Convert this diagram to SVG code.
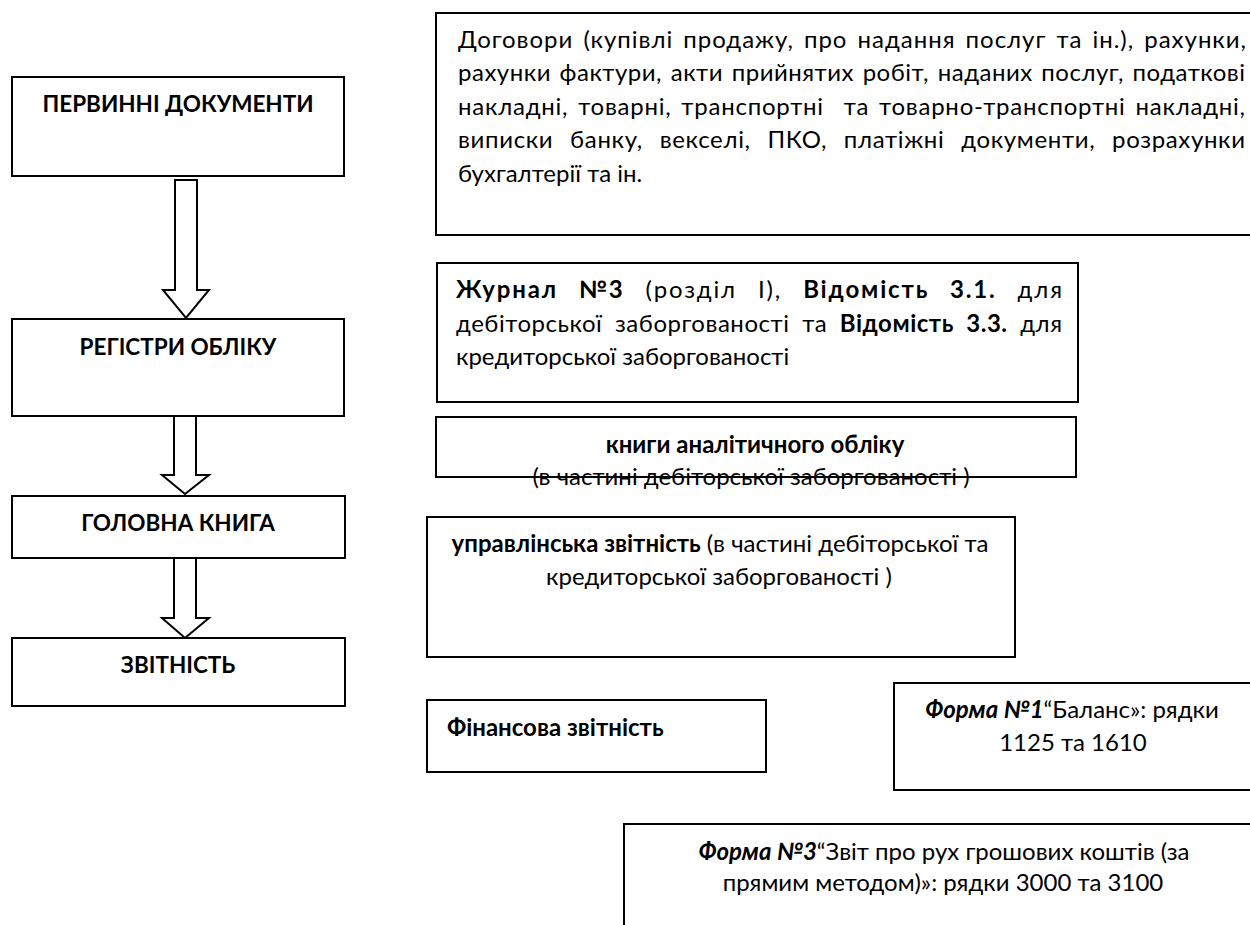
<svg xmlns="http://www.w3.org/2000/svg" width="1250" height="925" viewBox="0 0 1250 925">
<style>
.box{fill:#fff;stroke:#000;stroke-width:2}
.arr{fill:#fff;stroke:#000;stroke-width:2;stroke-linejoin:miter}
text{font-family:Lato,"Liberation Sans",sans-serif;font-size:24px;fill:#000}
.l{font-size:22.5px;font-weight:bold}
.b{font-weight:bold}
.bi{font-weight:bold;font-style:italic}
.c{text-anchor:middle}
</style>
<rect width="1250" height="925" fill="#fff"/>
<g id="connectors">
<polygon class="arr" points="175,180 197,180 197,290 209,290 186,318 163,290 175,290"/>
<polygon class="arr" points="174,416 196,416 196,475 209,475 185,494 162,475 174,475"/>
<polygon class="arr" points="174,558 196,558 196,618 209,618 185,638 162,618 174,618"/>
</g>
<g id="n-pervynni">
<rect class="box" x="12" y="77" width="332" height="99"/>
<text class="l c" x="178" y="112">ПЕРВИННІ ДОКУМЕНТИ</text>
</g>
<g id="n-registry">
<rect class="box" x="12" y="319" width="332" height="97"/>
<text class="l c" x="178" y="355">РЕГІСТРИ ОБЛІКУ</text>
</g>
<g id="n-golovna">
<rect class="box" x="12" y="496" width="333" height="62"/>
<text class="l c" x="178" y="531">ГОЛОВНА КНИГА</text>
</g>
<g id="n-zvitnist">
<rect class="box" x="12" y="638" width="333" height="68"/>
<text class="l c" x="178" y="673">ЗВІТНІСТЬ</text>
</g>
<g id="n-docs">
<rect class="box" x="436" y="13" width="820" height="222"/>
<text x="458" y="48" word-spacing="3" textLength="788" lengthAdjust="spacing">Договори (купівлі продажу, про надання послуг та ін.), рахунки,</text>
<text x="458" y="81" word-spacing="2" textLength="787" lengthAdjust="spacing">рахунки фактури, акти прийнятих робіт, наданих послуг, податкові</text>
<text x="458" y="115" word-spacing="3" textLength="787" lengthAdjust="spacing">накладні, товарні, транспортні&#160; та товарно-транспортні накладні,</text>
<text x="458" y="148" word-spacing="10" textLength="787" lengthAdjust="spacing">виписки банку, векселі, ПКО, платіжні документи, розрахунки</text>
<text x="458" y="182">бухгалтерії та ін.</text>
</g>
<g id="n-journal">
<rect class="box" x="437" y="263" width="641" height="139"/>
<text x="456" y="298" word-spacing="13" textLength="606" lengthAdjust="spacing"><tspan class="b">Журнал №3</tspan> (розділ І), <tspan class="b">Відомість 3.1.</tspan> для</text>
<text x="456" y="332" word-spacing="6" textLength="606" lengthAdjust="spacing">дебіторської заборгованості та <tspan class="b">Відомість 3.3.</tspan> для</text>
<text x="456" y="365">кредиторської заборгованості</text>
</g>
<g id="n-knyhy">
<rect class="box" x="436" y="417" width="640" height="60"/>
<text class="b c" x="755" y="453">книги аналітичного обліку</text>
<text class="c" x="751" y="485">(в частині дебіторської заборгованості )</text>
</g>
<g id="n-upravl">
<rect class="box" x="427" y="517" width="588" height="140"/>
<text class="c" x="720" y="552"><tspan class="b">управлінська звітність</tspan> (в частині дебіторської та</text>
<text class="c" x="719" y="585">кредиторської заборгованості )</text>
</g>
<g id="n-finzvit">
<rect class="box" x="427" y="700" width="339" height="72"/>
<text class="b" x="447" y="736">Фінансова звітність</text>
</g>
<g id="n-forma1">
<rect class="box" x="894" y="683" width="362" height="107"/>
<text class="c" x="1072" y="718"><tspan class="bi">Форма №1</tspan>“Баланс»: рядки</text>
<text class="c" x="1073" y="751">1125 та 1610</text>
</g>
<g id="n-forma3">
<rect class="box" x="624" y="824" width="632" height="110"/>
<text class="c" x="944" y="860"><tspan class="bi">Форма №3</tspan>“Звіт про рух грошових коштів (за</text>
<text class="c" x="943" y="891">прямим методом)»: рядки 3000 та 3100</text>
</g>
</svg>
